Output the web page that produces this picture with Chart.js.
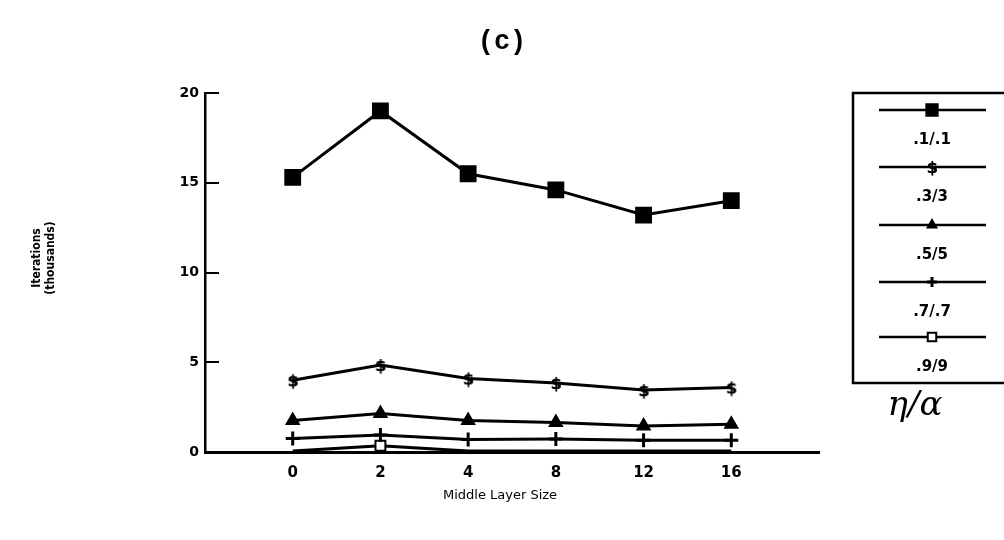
<!DOCTYPE html>
<html>
<head>
<meta charset="utf-8">
<script src="https://cdn.jsdelivr.net/npm/chart.js@4"></script>
<style>
  html, body { margin: 0; padding: 0; background: #fff; }
  #wrap { width: 1004px; height: 540px; }
</style>
</head>
<body>
<div id="wrap"><canvas id="chart" width="1004" height="540"></canvas></div>
<script>
// Middle layer size categories (blank slots pad the axis on both ends)
const sizeLabels = ['', '0', '2', '4', '8', '12', '16', ''];
const yTicks = [0, 5, 10, 15, 20];

// Iterations (thousands) per eta/alpha setting
const rate01 = [15.3, 19.0, 15.5, 14.6, 13.2, 14.0];
const rate03 = [4.0, 4.85, 4.1, 3.85, 3.45, 3.6];
const rate05 = [1.75, 2.15, 1.75, 1.65, 1.45, 1.55];
const rate07 = [0.75, 0.95, 0.7, 0.72, 0.65, 0.65];
const rate09 = [0.05, 0.35, 0.05, 0.05, 0.05, 0.05];

const seriesNames = ['.1/.1', '.3/3', '.5/5', '.7/.7', '.9/9'];

const FONT = '"DejaVu Sans", "Liberation Sans", sans-serif';

// "$"-like glyph marker used for the .3/.3 series
function glyphMarker(ch) {
  const c = document.createElement('canvas');
  c.width = 14; c.height = 20;
  const g = c.getContext('2d');
  g.fillStyle = '#000';
  g.font = 'bold 16px ' + FONT;
  g.textAlign = 'center';
  g.textBaseline = 'middle';
  g.fillText(ch, 7, 12);
  g.fillText(ch, 7.5, 12);
  return c;
}
const dollarMarker = glyphMarker('$');

function pad(values) {
  return [null].concat(values, [null]);
}

const styles = [
  { pointStyle: 'rect', radius: 10.5, fill: '#000' },
  { pointStyle: dollarMarker, radius: 7, fill: '#000' },
  { pointStyle: 'triangle', radius: 7, fill: '#000' },
  { pointStyle: 'cross', radius: 7, fill: '#000' },
  // open squares sink into the axis line except at size 2
  { pointStyle: 'rect', radius: [0, 0, 7, 0, 0, 0, 0, 0], fill: '#fff' }
];
const allValues = [rate01, rate03, rate05, rate07, rate09];

const datasets = allValues.map((vals, i) => ({
  label: seriesNames[i],
  data: pad(vals),
  borderColor: '#000',
  borderWidth: 3,
  backgroundColor: styles[i].fill,
  pointStyle: styles[i].pointStyle,
  pointRadius: styles[i].radius,
  pointBorderColor: '#000',
  pointBackgroundColor: styles[i].fill,
  pointBorderWidth: i === 3 ? 3 : 2,
  tension: 0,
  spanGaps: false
}));

// Title, axis caption, and the boxed legend drawn around the plot
const decorations = {
  id: 'decorations',
  afterDraw(chart) {
    const ctx = chart.ctx;
    ctx.save();
    ctx.fillStyle = '#000';
    ctx.strokeStyle = '#000';
    ctx.textAlign = 'center';
    ctx.textBaseline = 'middle';

    // (c)
    ctx.font = 'bold 27px "Courier New", "Liberation Mono", monospace';
    ctx.fillText('(c)', 502, 42);

    // x caption
    ctx.font = '13px ' + FONT;
    ctx.fillText('Middle Layer Size', 500, 496);

    // y caption, rotated
    ctx.save();
    ctx.translate(44, 258);
    ctx.rotate(-Math.PI / 2);
    ctx.font = 'bold 12px "DejaVu Sans Condensed", "Liberation Sans Narrow", ' + FONT;
    ctx.fillText('Iterations', 0, -7);
    ctx.fillText('(thousands)', 0, 7);
    ctx.restore();

    // legend box (open on the right edge)
    ctx.lineWidth = 2.5;
    ctx.beginPath();
    ctx.moveTo(1004, 93);
    ctx.lineTo(853, 93);
    ctx.lineTo(853, 383);
    ctx.lineTo(1004, 383);
    ctx.stroke();

    const lineYs = [110, 167, 225, 282, 337];
    ctx.font = 'bold 15px ' + FONT;
    chart.data.datasets.forEach((ds, i) => {
      const y = lineYs[i];
      ctx.lineWidth = 2.5;
      ctx.beginPath();
      ctx.moveTo(879, y);
      ctx.lineTo(986, y);
      ctx.stroke();
      ctx.fillStyle = ds.pointBackgroundColor;
      ctx.lineWidth = ds.pointBorderWidth;
      Chart.helpers.drawPoint(ctx, {
        pointStyle: ds.pointStyle,
        radius: i === 0 ? 8 : (i === 4 ? 6 : 5),
        rotation: 0,
        borderWidth: ds.pointBorderWidth
      }, 932, y);
      ctx.fillStyle = '#000';
      ctx.fillText(ds.label, 932, y + 30);
    });

    // eta / alpha
    ctx.font = 'italic 34px "DejaVu Serif", "Liberation Serif", serif';
    ctx.fillText('\u03b7/\u03b1', 915, 406);
    ctx.restore();
  }
};

new Chart(document.getElementById('chart'), {
  type: 'line',
  data: { labels: sizeLabels, datasets: datasets },
  options: {
    responsive: false,
    animation: false,
    devicePixelRatio: 1,
    layout: { padding: { left: 0, top: 93, right: 185, bottom: 0 } },
    plugins: {
      legend: { display: false },
      tooltip: { enabled: false }
    },
    scales: {
      x: {
        type: 'category',
        offset: false,
        afterFit: (s) => { s.height = 88; },
        grid: { display: false, drawTicks: false },
        border: { display: true, color: '#000', width: 3 },
        ticks: {
          color: '#000',
          padding: 12,
          autoSkip: false,
          maxRotation: 0,
          font: { family: FONT, size: 15, weight: 'bold' }
        }
      },
      y: {
        min: 0,
        max: 20,
        afterFit: (s) => { s.width = 205; },
        afterBuildTicks: (s) => { s.ticks = yTicks.map(v => ({ value: v })); },
        grid: {
          display: true,
          drawOnChartArea: false,
          drawTicks: true,
          tickLength: -14,
          color: '#000',
          lineWidth: 2
        },
        border: { display: true, color: '#000', width: 2.5 },
        ticks: {
          color: '#000',
          padding: 20,
          font: { family: FONT, size: 14, weight: 'bold' }
        }
      }
    }
  },
  plugins: [decorations]
});
</script>
</body>
</html>
